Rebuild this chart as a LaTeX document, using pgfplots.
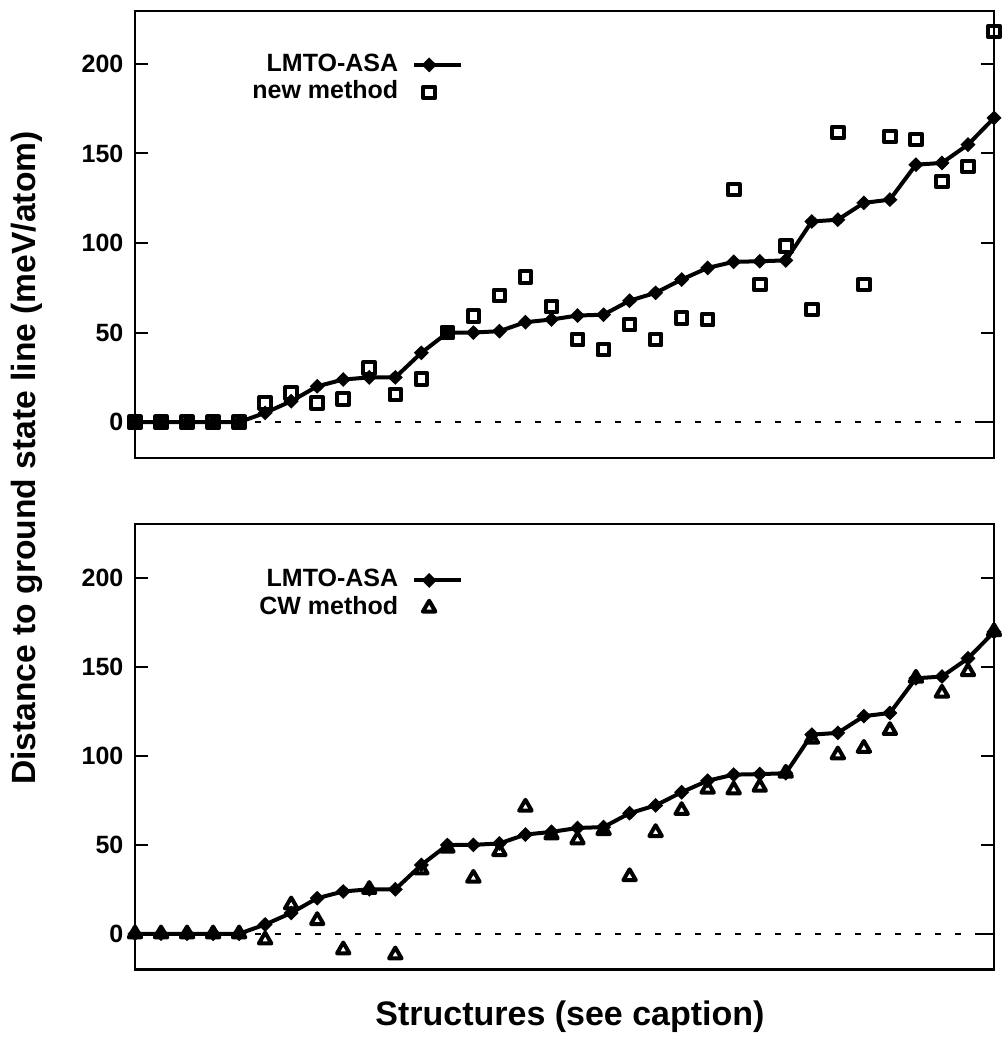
\documentclass[border=0pt]{standalone}
\usepackage{fontspec}
\setmainfont{Liberation Sans}
\usepackage{pgfplots}
\pgfplotsset{compat=1.18}
\begin{document}
\begin{tikzpicture}
\useasboundingbox (0pt,0pt) rectangle (500.5pt,-526pt);
\pgfplotsset{
  panel/.style={
    scale only axis,
    width=429.5pt,
    xmin=0, xmax=33,
    ymin=-20,
    xtick=\empty,
    ytick={0,50,100,150,200},
    tick align=inside,
    major tick length=6.5pt,
    axis line style={line width=1.2pt},
    tick style={line width=1pt, black},
    yticklabel style={font=\fontsize{12.5}{14}\selectfont\bfseries, xshift=-2.3pt},
    /pgf/number format/assume math mode=true,
    clip=false,
    legend plot pos=right,
    legend cell align=right,
    legend style={draw=none, fill=none, inner sep=0pt, column sep=7pt, row sep=2.25pt,
      font=\fontsize{12.5}{14}\selectfont\bfseries,
      nodes={inner sep=0pt, text height=9pt, text depth=2.5pt}},
    legend image code/.code={\draw[mark repeat=2,mark phase=2,##1] plot coordinates {(0pt,0pt) (7.5pt,0pt) (23.5pt,0pt)};},
  },
  lmto/.style={black, line width=2pt, mark=diamond*, mark size=2.3pt, mark options={xscale=1.35, solid}},
  zeroline/.style={black, line width=1pt, dash pattern=on 3pt off 7pt, forget plot},
}
\begin{axis}[panel, height=223.5pt, ymax=229.5, at={(67.5pt,-229pt)}, anchor=south west,
  legend style={at={(0.3825,0.906)}, anchor=north east}]
\addplot[zeroline] coordinates {(0,0) (33,0)};
\addplot[lmto] coordinates {
(0,0) (1,0) (2,0) (3,0) (4,0) (5,5.2) (6,11.7) (7,20) (8,23.8) (9,25) (10,25)
(11,38.7) (12,49.9) (13,50) (14,50.8) (15,55.8) (16,57.3) (17,59.5) (18,60)
(19,67.8) (20,72.2) (21,79.6) (22,86.1) (23,89.5) (24,89.8) (25,90.3) (26,112)
(27,113) (28,122.4) (29,124.2) (30,143.7) (31,144.7) (32,154.9) (33,169.8)};
\addlegendentry{LMTO-ASA}
\addplot[only marks, black, mark=square, mark size=2.9pt, mark options={line width=2pt, line join=round, solid}] coordinates {
(0,0) (1,0) (2,0) (3,0) (4,0) (5,10.8) (6,16.4) (7,10.8) (8,13) (9,30.3) (10,15.4)
(11,24.2) (12,50) (13,59.1) (14,70.7) (15,81.1) (16,64.5) (17,46.1) (18,40.5)
(19,54.5) (20,46.1) (21,58.2) (22,57.3) (23,129.8) (24,76.8) (25,98.2) (26,62.9)
(27,161.7) (28,76.8) (29,159.5) (30,157.7) (31,134.4) (32,142.8) (33,218)};
\addlegendentry{new method}
\end{axis}
\begin{axis}[panel, height=222.65pt, ymax=230.5, at={(67.5pt,-484.65pt)}, anchor=south west,
  legend style={at={(0.3825,0.900)}, anchor=north east}]
\addplot[zeroline] coordinates {(0,0) (33,0)};
\addplot[lmto] coordinates {
(0,0) (1,0) (2,0) (3,0) (4,0) (5,5.2) (6,11.7) (7,20) (8,23.8) (9,25) (10,25)
(11,38.7) (12,49.9) (13,50) (14,50.8) (15,55.8) (16,57.3) (17,59.5) (18,60)
(19,67.8) (20,72.2) (21,79.6) (22,86.1) (23,89.5) (24,89.8) (25,90.3) (26,112)
(27,113) (28,122.4) (29,124.2) (30,143.7) (31,144.7) (32,154.9) (33,169.8)};
\addlegendentry{LMTO-ASA}
\addplot[only marks, black, mark=triangle, mark size=3.6pt, mark options={line width=2pt, line join=round, solid}] coordinates {
(0,0) (1,0) (2,0) (3,0) (4,0) (5,-3.4) (6,16.3) (7,7.5) (8,-9) (9,25) (10,-11.8)
(11,36) (12,48.2) (13,31.3) (14,46.3) (15,71.3) (16,55.7) (17,52.9) (18,58.1)
(19,32.2) (20,57) (21,69.4) (22,81.4) (23,81) (24,82.5) (25,90.4) (26,109.5)
(27,100.7) (28,104.4) (29,114.4) (30,143.8) (31,135.4) (32,147.5) (33,170)};
\addlegendentry{CW method}
\end{axis}
\node[rotate=90, font=\fontsize{16.8}{20}\selectfont\bfseries, anchor=center] at (13.5pt,-229pt) {Distance to ground state line (meV/atom)};
\node[font=\fontsize{17}{20}\selectfont\bfseries, anchor=base] at (285pt,-512.5pt) {Structures (see caption)};
\end{tikzpicture}
\end{document}
